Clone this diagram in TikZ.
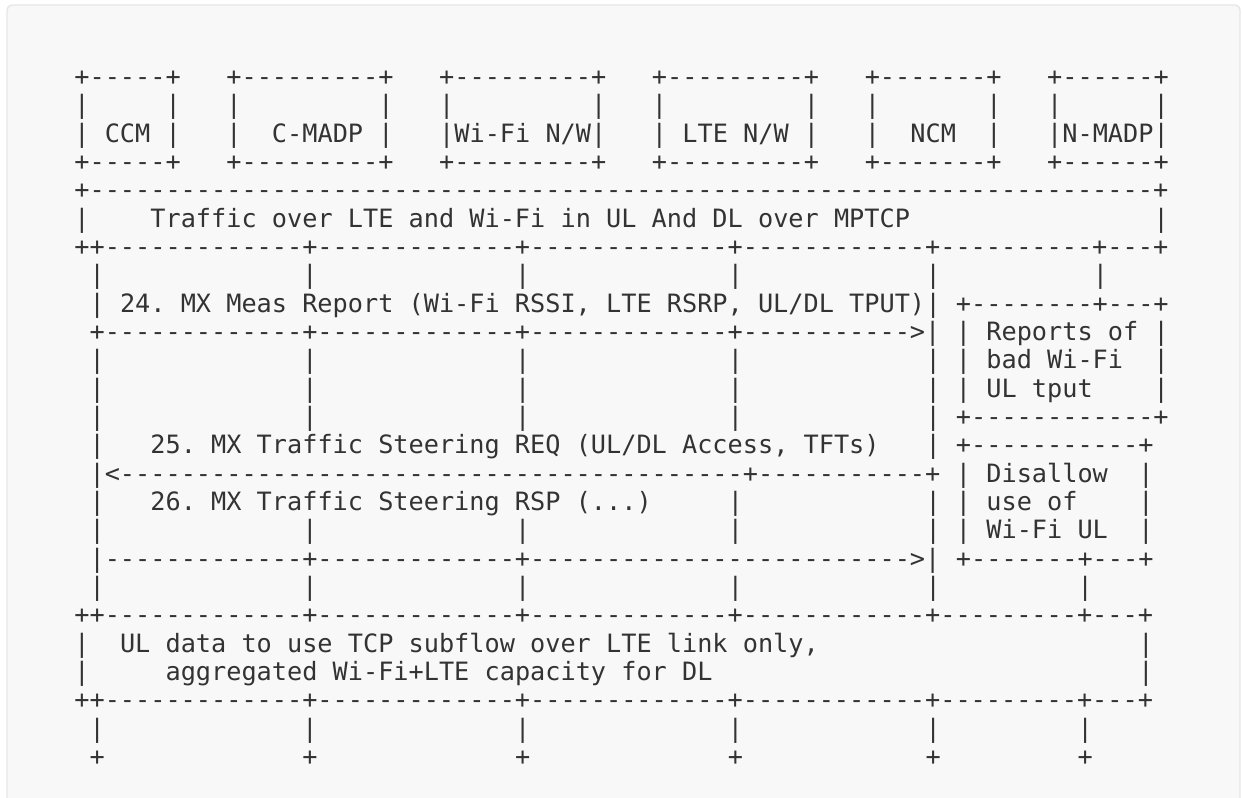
\documentclass[tikz,border=0pt]{standalone}
\usepackage{fontspec}
\setmonofont{DejaVu Sans Mono}
\ExplSyntaxOn
\cs_new:Npn \dashes #1 { \prg_replicate:nn {#1} {-} }
\ExplSyntaxOff
\definecolor{inkgray}{HTML}{333333}
\definecolor{panelfill}{HTML}{F8F8F8}
\definecolor{panelline}{HTML}{E6E6E6}
\begin{document}
\begin{tikzpicture}[
    asc/.style={anchor=base west, inner sep=0pt, outer sep=0pt, text=inkgray,
        font=\fontsize{7.18pt}{8pt}\ttfamily, xshift=-0.076cm, yshift=-0.085cm}]
    \useasboundingbox (0,0) rectangle (12.42,-7.97);
    \draw[panelline, fill=panelfill, rounded corners=0.05cm] (0.07,-0.05) rectangle (12.40,-8.3);
    \begin{scope}[shift={(0.82,-0.4867)}, x=0.152cm, y=-0.28333cm]
        % entity boxes
        \foreach \r in {1,4} {
            \node[asc] (ccm-\r) at (0,\r) {+\dashes{5}+};
            \node[asc] (cmadp-\r) at (10,\r) {+\dashes{9}+};
            \node[asc] (wifi-\r) at (24,\r) {+\dashes{9}+};
            \node[asc] (lte-\r) at (38,\r) {+\dashes{9}+};
            \node[asc] (ncm-\r) at (52,\r) {+\dashes{7}+};
            \node[asc] (nmadp-\r) at (64,\r) {+\dashes{6}+};
        }
        \foreach \r in {2,3}
            \foreach \c in {0,6,10,20,24,34,38,48,52,60,64,71}
                \node[asc] (wall-\r-\c) at (\c,\r) {|};
        \node[asc] (ccm) at (2,3) {CCM};
        \node[asc] (cmadp) at (13,3) {C-MADP};
        \node[asc] (wifi) at (25,3) {Wi-Fi N/W};
        \node[asc] (lte) at (40,3) {LTE N/W};
        \node[asc] (ncm) at (55,3) {NCM};
        \node[asc] (nmadp) at (65,3) {N-MADP};
        % MPTCP traffic
        \node[asc] (mp-top) at (0,5) {+\dashes{70}+};
        \node[asc] (mp-l) at (0,6) {|};
        \node[asc] (mp-txt) at (5,6) {Traffic over LTE and Wi-Fi in UL And DL over MPTCP};
        \node[asc] (mp-r) at (71,6) {|};
        \node[asc] (mp-bot) at (0,7) {++\dashes{13}+\dashes{13}+\dashes{13}+\dashes{12}+\dashes{10}+\dashes{3}+};
        % lifelines
        \foreach \r/\cl in {8/{1,15,29,43,56,67}, 11/{1,15,29,43,56}, 12/{1,15,29,43,56},
                13/{1,15,29,43,56}, 17/{1,15,29,43,56}, 19/{1,15,29,43,56,66}, 24/{1,15,29,43,56,66}}
            \foreach \c in \cl
                \node[asc] (life-\r-\c) at (\c,\r) {|};
        \foreach \c in {1,15,29,43,56,66}
            \node[asc] (end-\c) at (\c,25) {+};
        % 24
        \node[asc] (m24-l) at (1,9) {|};
        \node[asc] (m24) at (3,9) {24. MX Meas Report (Wi-Fi RSSI, LTE RSRP, UL/DL TPUT)};
        \node[asc] (m24-r) at (56,9) {|};
        \node[asc] (m24-arr) at (1,10) {+\dashes{13}+\dashes{13}+\dashes{13}+\dashes{11}>|};
        % reports box
        \node[asc] (rep-top) at (58,9) {+\dashes{8}+\dashes{3}+};
        \foreach \r in {10,11,12} {
            \node[asc] (rep-l\r) at (58,\r) {|};
            \node[asc] (rep-r\r) at (71,\r) {|};
        }
        \node[asc] (rep1) at (60,10) {Reports of};
        \node[asc] (rep2) at (60,11) {bad Wi-Fi};
        \node[asc] (rep3) at (60,12) {UL tput};
        \node[asc] (rep-bot) at (58,13) {+\dashes{12}+};
        % 25
        \node[asc] (m25-l) at (1,14) {|};
        \node[asc] (m25) at (5,14) {25. MX Traffic Steering REQ (UL/DL Access, TFTs)};
        \node[asc] (m25-r) at (56,14) {|};
        \node[asc] (m25-arr) at (1,15) {|<\dashes{41}+\dashes{11}+};
        % 26
        \node[asc] (m26-l) at (1,16) {|};
        \node[asc] (m26) at (5,16) {26. MX Traffic Steering RSP (...)};
        \node[asc] (m26-m) at (43,16) {|};
        \node[asc] (m26-r) at (56,16) {|};
        \node[asc] (m26-arr) at (1,18) {|\dashes{13}+\dashes{13}+\dashes{25}>|};
        % disallow box
        \node[asc] (dis-top) at (58,14) {+\dashes{11}+};
        \foreach \r in {15,16,17} {
            \node[asc] (dis-l\r) at (58,\r) {|};
            \node[asc] (dis-r\r) at (70,\r) {|};
        }
        \node[asc] (dis1) at (60,15) {Disallow};
        \node[asc] (dis2) at (60,16) {use of};
        \node[asc] (dis3) at (60,17) {Wi-Fi UL};
        \node[asc] (dis-bot) at (58,18) {+\dashes{7}+\dashes{3}+};
        % UL over LTE only
        \foreach \r in {20,23}
            \node[asc] (ul-\r) at (0,\r) {++\dashes{13}+\dashes{13}+\dashes{13}+\dashes{12}+\dashes{9}+\dashes{3}+};
        \node[asc] (ul-l1) at (0,21) {|};
        \node[asc] (ul1) at (3,21) {UL data to use TCP subflow over LTE link only,};
        \node[asc] (ul-r1) at (70,21) {|};
        \node[asc] (ul-l2) at (0,22) {|};
        \node[asc] (ul2) at (6,22) {aggregated Wi-Fi+LTE capacity for DL};
        \node[asc] (ul-r2) at (70,22) {|};
    \end{scope}
\end{tikzpicture}
\end{document}
